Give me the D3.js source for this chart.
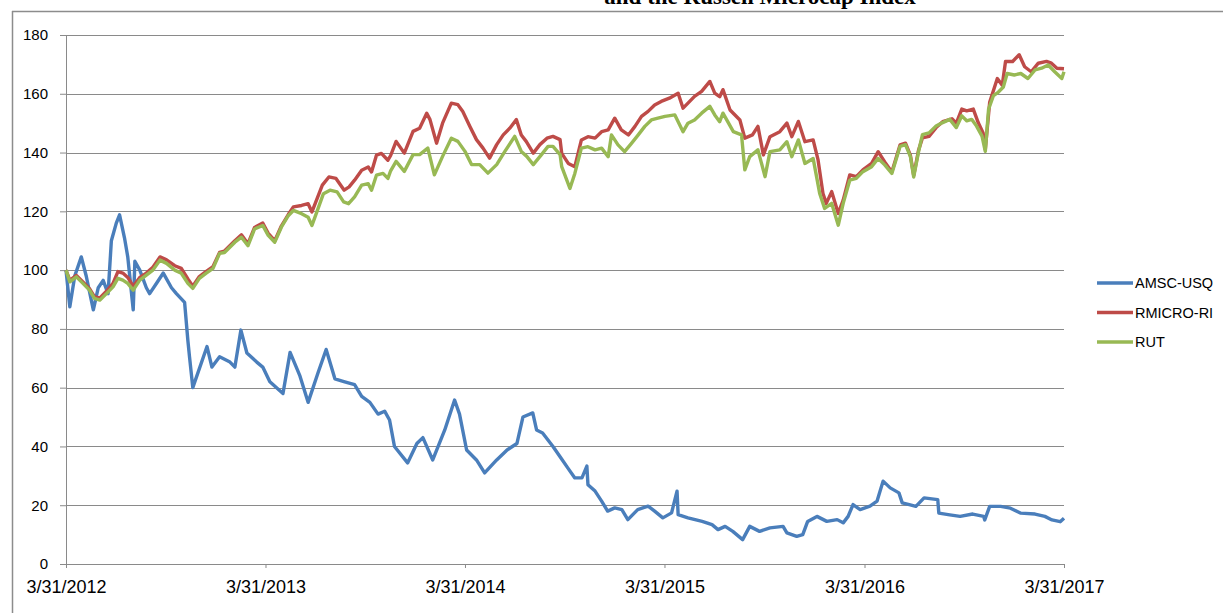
<!DOCTYPE html>
<html>
<head>
<meta charset="utf-8">
<script src="https://cdn.jsdelivr.net/npm/d3@7"></script>
<style>
  body { margin: 0; background: #fff; }
  svg { display: block; }
</style>
</head>
<body>
<div id="chart"></div>
<script>
// series, [date, index value]
const amsc = [
  ["2012-03-31",100],["2012-04-07",87.5],["2012-04-16",98],["2012-04-28",104.5],["2012-05-07",98],
  ["2012-05-20",86.5],["2012-05-29",94],["2012-06-07",96.5],["2012-06-16",92],["2012-06-22",110],
  ["2012-07-01",116],["2012-07-07",118.8],["2012-07-16",111],["2012-07-22",104.5],["2012-08-01",86.5],
  ["2012-08-04",103],["2012-08-13",100],["2012-08-25",94],["2012-08-31",92],["2012-09-13",95.6],
  ["2012-09-25",99],["2012-10-10",94],["2012-10-19",92],["2012-11-03",89],["2012-11-09",76],
  ["2012-11-12",70.5],["2012-11-18",60],["2012-12-14",74],["2012-12-23",67],["2013-01-06",70.5],
  ["2013-01-25",68.7],["2013-02-03",67],["2013-02-14",79.6],["2013-02-25",71.8],["2013-03-15",68.7],
  ["2013-03-26",67],["2013-04-08",62],["2013-05-02",58],["2013-05-15",72],["2013-06-02",64],
  ["2013-06-17",55],["2013-07-05",65],["2013-07-20",73],["2013-08-05",63],["2013-08-23",62],
  ["2013-09-10",61],["2013-09-23",57],["2013-10-08",55],["2013-10-23",51],["2013-11-04",52],
  ["2013-11-13",49],["2013-11-22",40],["2013-12-16",34.4],["2014-01-02",41],["2014-01-13",43],
  ["2014-01-31",35.4],["2014-02-22",45.6],["2014-03-12",55.8],["2014-03-21",51],["2014-04-03",38.8],
  ["2014-04-21",35.4],["2014-05-06",31],["2014-05-28",35.4],["2014-06-16",38.8],["2014-07-04",41],
  ["2014-07-15",50],["2014-08-02",51.4],["2014-08-09",45.6],["2014-08-20",44.6],["2014-09-08",40],
  ["2014-09-21",36.5],["2014-10-05",32.7],["2014-10-18",29.3],["2014-10-31",29.3],["2014-11-09",33.3],
  ["2014-11-11",27],["2014-11-24",24.8],["2014-12-06",21.4],["2014-12-17",18],["2014-12-30",19.1],
  ["2015-01-12",18.5],["2015-01-23",15.1],["2015-02-10",18.5],["2015-03-01",19.7],["2015-03-13",18],
  ["2015-03-28",15.7],["2015-04-13",17.4],["2015-04-23",24.8],["2015-04-25",16.8],["2015-05-13",15.7],
  ["2015-06-08",14.5],["2015-06-26",13.4],["2015-07-07",11.7],["2015-07-20",12.8],["2015-08-03",11.1],
  ["2015-08-21",8.3],["2015-09-03",12.8],["2015-09-21",11.1],["2015-10-10",12.3],["2015-11-03",12.8],
  ["2015-11-10",10.6],["2015-11-28",9.4],["2015-12-09",10],["2015-12-18",14.5],["2016-01-04",16.2],
  ["2016-01-22",14.5],["2016-02-10",15.1],["2016-02-21",14],["2016-03-01",16.2],["2016-03-10",20.2],
  ["2016-03-23",18.5],["2016-04-10",19.7],["2016-04-23",21.4],["2016-05-04",28.2],["2016-05-17",25.9],
  ["2016-06-02",24.2],["2016-06-08",20.8],["2016-06-21",20.2],["2016-07-03",19.6],["2016-07-18",22.5],
  ["2016-08-12",21.9],["2016-08-14",17.3],["2016-09-03",16.7],["2016-09-22",16.2],["2016-10-15",17],
  ["2016-11-04",16.2],["2016-11-06",15],["2016-11-15",19.6],["2016-12-05",19.6],["2016-12-23",19],
  ["2017-01-11",17.3],["2017-02-06",17],["2017-02-24",16.2],["2017-03-09",15],["2017-03-24",14.4],
  ["2017-03-31",15.6]
];

const rmicro = [
  ["2012-03-31",100],["2012-04-07",96.5],["2012-04-19",98.2],["2012-05-01",96],["2012-05-13",93.7],
  ["2012-05-22",91],["2012-06-01",90.5],["2012-06-13",92.8],["2012-06-25",95.5],["2012-07-04",99.5],
  ["2012-07-13",99],["2012-07-22",97.5],["2012-08-01",94.5],["2012-08-13",97.5],["2012-08-25",99],
  ["2012-09-06",101],["2012-09-19",104.5],["2012-10-01",103.5],["2012-10-16",101.5],["2012-10-28",100.6],
  ["2012-11-09",97],["2012-11-18",94.5],["2012-11-30",97.8],["2012-12-12",99.5],["2012-12-25",101.2],
  ["2013-01-06",106],["2013-01-15",106.5],["2013-02-03",110],["2013-02-15",112],["2013-02-27",109],
  ["2013-03-11",114.5],["2013-03-26",116],["2013-04-05",112.5],["2013-04-17",110],["2013-04-29",115],
  ["2013-05-12",119],["2013-05-21",121.5],["2013-06-05",122],["2013-06-17",122.6],["2013-06-24",119.8],
  ["2013-07-13",128.9],["2013-07-25",131.7],["2013-08-07",131.2],["2013-08-22",127.2],["2013-08-31",128.3],
  ["2013-09-10",130.6],["2013-09-23",134],["2013-10-05",135.1],["2013-10-11",133.4],["2013-10-20",139.1],
  ["2013-10-29",139.7],["2013-11-10",137.4],["2013-11-15",139],["2013-11-25",143.8],["2013-12-10",139.8],
  ["2013-12-26",147.2],["2014-01-07",148.3],["2014-01-20",153.4],["2014-01-26",151.2],["2014-02-07",143.2],
  ["2014-02-18",150],["2014-03-06",156.8],["2014-03-18",156.3],["2014-03-27",154],["2014-04-09",148.9],
  ["2014-04-21",144.4],["2014-05-03",141.5],["2014-05-15",138.1],["2014-05-28",142.7],["2014-06-09",146],
  ["2014-06-21",148.3],["2014-07-03",151.2],["2014-07-12",146],["2014-07-21",143.8],["2014-08-03",139.8],
  ["2014-08-15",142.7],["2014-08-28",144.9],["2014-09-08",145.5],["2014-09-21",144.4],["2014-09-24",139.7],
  ["2014-10-06",136.3],["2014-10-18",135.2],["2014-10-30",144.3],["2014-11-11",145.4],["2014-11-24",144.9],
  ["2014-12-06",147.1],["2014-12-18",147.7],["2014-12-30",151.7],["2015-01-11",147.7],["2015-01-24",146],
  ["2015-02-05",148.9],["2015-02-17",152.3],["2015-03-01",154],["2015-03-13",156.2],["2015-03-25",157.4],
  ["2015-04-09",158.5],["2015-04-25",160.2],["2015-05-04",155.1],["2015-05-13",156.8],["2015-05-25",159.1],
  ["2015-06-07",160.8],["2015-06-22",164.2],["2015-07-01",160.2],["2015-07-10",159],["2015-07-16",161.4],
  ["2015-07-29",154.5],["2015-08-16",151.1],["2015-08-25",144.9],["2015-09-08",146],["2015-09-18",148.9],
  ["2015-09-28",139.2],["2015-10-10",145.4],["2015-10-28",147.1],["2015-11-10",150],["2015-11-19",145.4],
  ["2015-12-01",150.6],["2015-12-13",143.7],["2015-12-28",144.3],["2016-01-06",137.5],["2016-01-15",126.1],
  ["2016-01-21",122.7],["2016-01-31",126.7],["2016-02-12",119.3],["2016-02-21",123.8],["2016-03-04",132.4],
  ["2016-03-16",131.8],["2016-03-28",134.1],["2016-04-13",136.3],["2016-04-25",140.3],["2016-05-07",136.8],
  ["2016-05-20",133.4],["2016-06-04",142.6],["2016-06-14",143.2],["2016-06-23",139],["2016-06-29",132.2],
  ["2016-07-08",140.9],["2016-07-15",145],["2016-07-27",145.5],["2016-08-09",148.5],["2016-08-21",150.5],
  ["2016-09-07",151.5],["2016-09-15",150],["2016-09-25",154.8],["2016-10-04",154.2],["2016-10-16",154.8],
  ["2016-10-25",150.2],["2016-11-03",146.7],["2016-11-07",141],["2016-11-15",157.1],["2016-11-29",165.2],
  ["2016-12-08",162.9],["2016-12-14",171],["2016-12-27",171],["2017-01-08",173.3],["2017-01-18",169.2],
  ["2017-01-30",167.5],["2017-02-12",170.4],["2017-02-27",171],["2017-03-08",170.4],["2017-03-18",168.7],
  ["2017-03-31",168.5]
];

const rut = [
  ["2012-03-31",100],["2012-04-07",96],["2012-04-19",97.7],["2012-05-01",95.5],["2012-05-13",93.2],
  ["2012-05-22",90.4],["2012-06-01",89.8],["2012-06-13",92],["2012-06-25",94.3],["2012-07-04",97.2],
  ["2012-07-13",96.6],["2012-07-22",95.5],["2012-08-01",93.2],["2012-08-13",96.6],["2012-08-25",98.3],
  ["2012-09-06",100],["2012-09-19",103.4],["2012-10-01",102.3],["2012-10-16",100],["2012-10-28",98.9],
  ["2012-11-09",95.5],["2012-11-18",93.8],["2012-11-30",97.2],["2012-12-12",98.9],["2012-12-25",100.6],
  ["2013-01-06",105.7],["2013-01-15",106],["2013-02-03",109.5],["2013-02-15",111.2],["2013-02-27",108.3],
  ["2013-03-11",114],["2013-03-26",115.2],["2013-04-05",111.8],["2013-04-17",109.5],["2013-04-29",114.6],
  ["2013-05-12",118.6],["2013-05-21",120.3],["2013-06-05",119.2],["2013-06-17",118],["2013-06-24",115.2],
  ["2013-07-03",119.8],["2013-07-15",126],["2013-07-27",127.2],["2013-08-09",126.6],["2013-08-21",123.2],
  ["2013-08-30",122.6],["2013-09-10",124.9],["2013-09-23",128.9],["2013-10-05",129.4],["2013-10-11",127.2],
  ["2013-10-20",132.3],["2013-11-01",132.9],["2013-11-10",131.2],["2013-11-15",133.8],["2013-11-25",137],
  ["2013-12-10",133.6],["2013-12-26",139.3],["2014-01-07",139.3],["2014-01-22",141.5],["2014-02-03",132.4],
  ["2014-02-18",138.7],["2014-03-06",144.9],["2014-03-18",143.8],["2014-03-31",140.4],["2014-04-12",135.9],
  ["2014-04-27",135.9],["2014-05-12",133],["2014-05-28",135.9],["2014-06-12",140.4],["2014-06-30",145.5],
  ["2014-07-12",140.4],["2014-07-22",138.7],["2014-08-03",135.9],["2014-08-18",139.3],["2014-08-30",142.1],
  ["2014-09-08",142.1],["2014-09-21",139.3],["2014-09-24",135.2],["2014-10-09",127.8],["2014-10-18",132.9],
  ["2014-10-30",141.5],["2014-11-11",142],["2014-11-24",140.9],["2014-12-06",141.5],["2014-12-18",138.6],
  ["2014-12-24",146],["2015-01-05",142.6],["2015-01-17",140.3],["2015-01-30",143.2],["2015-02-11",146],
  ["2015-02-23",148.9],["2015-03-07",151.1],["2015-03-19",151.7],["2015-04-01",152.3],["2015-04-19",152.8],
  ["2015-05-04",147.1],["2015-05-13",150],["2015-05-25",151.1],["2015-06-07",153.4],["2015-06-22",155.7],
  ["2015-07-01",152.8],["2015-07-10",150.5],["2015-07-16",153.4],["2015-08-04",147.1],["2015-08-19",146],
  ["2015-08-25",134.1],["2015-09-03",138.6],["2015-09-18",140.9],["2015-10-01",131.8],["2015-10-10",140.3],
  ["2015-10-28",140.9],["2015-11-10",143.7],["2015-11-19",138.6],["2015-12-01",144.3],["2015-12-13",136.3],
  ["2015-12-28",138],["2016-01-09",126.1],["2016-01-18",121],["2016-01-31",122.7],["2016-02-12",115.3],
  ["2016-02-21",122.7],["2016-03-04",130.6],["2016-03-16",131.2],["2016-03-28",133.5],["2016-04-13",135.2],
  ["2016-04-25",138],["2016-05-07",135.8],["2016-05-20",132.9],["2016-06-04",142.1],["2016-06-14",142.7],
  ["2016-06-23",138.6],["2016-06-29",131.7],["2016-07-08",140.4],["2016-07-15",146.1],["2016-07-27",146.7],
  ["2016-08-09",149],["2016-08-21",150.2],["2016-09-03",151.3],["2016-09-15",148.5],["2016-09-25",152.5],
  ["2016-10-04",150.8],["2016-10-13",151.3],["2016-10-22",149],["2016-11-01",145.6],["2016-11-07",140.4],
  ["2016-11-13",154.8],["2016-11-22",159.4],["2016-12-01",160.6],["2016-12-10",162.3],["2016-12-17",166.9],
  ["2016-12-30",166.4],["2017-01-11",166.9],["2017-01-24",165.2],["2017-02-06",168.1],["2017-02-18",168.7],
  ["2017-03-02",169.8],["2017-03-14",167.5],["2017-03-27",165.2],["2017-03-31",167.5]
];

const seriesNames = ["AMSC-USQ", "RMICRO-RI", "RUT"];
const seriesColors = ["#4a7ebb", "#be4b48", "#98b954"];
const yTicks = [0, 20, 40, 60, 80, 100, 120, 140, 160, 180];
const xTickDates = ["2012-03-31", "2013-03-31", "2014-03-31", "2015-03-31", "2016-03-31", "2017-03-31"];
const xTickLabels = ["3/31/2012", "3/31/2013", "3/31/2014", "3/31/2015", "3/31/2016", "3/31/2017"];
const titleText = "and the Russell Microcap Index";

const W = 1223, H = 613;
const margin = {top: 35, right: 159, bottom: 49, left: 66};
const width = W - margin.left - margin.right,
      height = H - margin.top - margin.bottom;

const parse = d3.timeParse("%Y-%m-%d");

const svg = d3.select("#chart").append("svg")
  .attr("width", W)
  .attr("height", H);

// chart frame (top and left edges visible)
svg.append("line").attr("x1", 12).attr("x2", W).attr("y1", 11.5).attr("y2", 11.5)
  .attr("stroke", "#8c8c8c").attr("stroke-width", 1.5);
svg.append("line").attr("x1", 12.5).attr("x2", 12.5).attr("y1", 11).attr("y2", H)
  .attr("stroke", "#8c8c8c").attr("stroke-width", 1.5);

// title, cut off at the top like in the original picture
svg.append("text")
  .attr("x", 760).attr("y", 4)
  .attr("text-anchor", "middle")
  .style("font-family", "'Liberation Serif', 'Times New Roman', serif")
  .style("font-weight", "bold")
  .style("font-size", "23px")
  .text(titleText);

const g = svg.append("g")
  .attr("transform", "translate(" + margin.left + "," + margin.top + ")");

const x = d3.scaleTime()
  .domain([parse(xTickDates[0]), parse(xTickDates[xTickDates.length - 1])])
  .range([0, width]);
const y = d3.scaleLinear()
  .domain([0, 180])
  .range([height, 0]);

// horizontal gridlines
g.append("g")
  .selectAll("line")
  .data(yTicks.slice(1))
  .join("line")
    .attr("x1", 0).attr("x2", width)
    .attr("y1", d => Math.round(y(d)) + 0.5).attr("y2", d => Math.round(y(d)) + 0.5)
    .attr("stroke", "#8a8a8a").attr("stroke-width", 1);

// y axis
const yAxis = g.append("g")
  .call(d3.axisLeft(y).tickValues(yTicks).tickSize(6).tickPadding(12));
yAxis.select(".domain").attr("stroke", "#8a8a8a");
yAxis.selectAll(".tick line").attr("stroke", "#8a8a8a");
yAxis.selectAll("text")
  .style("font-family", "'Liberation Sans', Arial, sans-serif")
  .style("font-size", "15px")
  .attr("fill", "#000");

// x axis
const xAxis = g.append("g")
  .attr("transform", "translate(0," + height + ")")
  .call(d3.axisBottom(x)
    .tickValues(xTickDates.map(parse))
    .tickFormat((d, i) => xTickLabels[i])
    .tickSize(4).tickPadding(12));
xAxis.select(".domain").attr("stroke", "#8a8a8a");
xAxis.selectAll(".tick line").attr("stroke", "#8a8a8a");
xAxis.selectAll("text")
  .style("font-family", "'Liberation Sans', Arial, sans-serif")
  .style("font-size", "18px")
  .attr("fill", "#000");

// the three lines
const line = d3.line()
  .x(d => x(parse(d[0])))
  .y(d => y(d[1]));

[amsc, rmicro, rut].forEach(function(s, i) {
  g.append("path")
    .datum(s)
    .attr("fill", "none")
    .attr("stroke", seriesColors[i])
    .attr("stroke-width", 3.4)
    .attr("stroke-linejoin", "round")
    .attr("d", line);
});

// legend
const legend = svg.append("g")
  .attr("transform", "translate(1097,283)");
const item = legend.selectAll("g")
  .data(seriesNames)
  .join("g")
    .attr("transform", (d, i) => "translate(0," + (i * 29.5) + ")");
item.append("line")
  .attr("x1", 0).attr("x2", 36)
  .attr("stroke", (d, i) => seriesColors[i])
  .attr("stroke-width", 3.4);
item.append("text")
  .attr("x", 38).attr("y", 5)
  .style("font-family", "'Liberation Sans', Arial, sans-serif")
  .style("font-size", "14.5px")
  .text(d => d);
</script>
</body>
</html>
